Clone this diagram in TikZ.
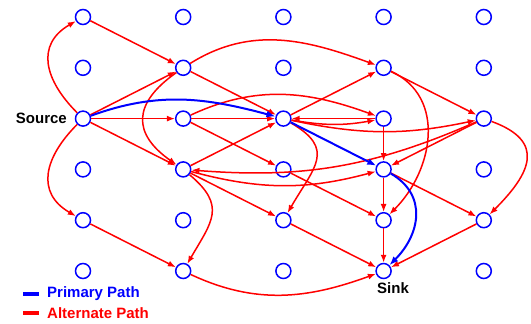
\documentclass[tikz,border=0pt]{standalone}
\usepackage{fontspec}
\setmainfont{Liberation Sans}
\usepackage{tikz}
\usetikzlibrary{arrows.meta}

\begin{document}
\begin{tikzpicture}[x=1pt,y=1pt,
  vertex/.style={circle,draw=blue,line width=1.5pt,fill=white,minimum size=15pt,inner sep=0pt},
  alt/.style={draw=red,line width=1.5pt,-{Latex[length=8pt,width=6pt]}},
  prim/.style={draw=blue,line width=2pt,-{Latex[length=9pt,width=7pt]}},
  tag/.style={font=\fontsize{15}{17}\selectfont\bfseries,inner sep=0pt}]
\useasboundingbox (0,0) rectangle (531,-324);

% grid of routers
\foreach \c in {0,...,4}
  \foreach \r in {0,...,5}
    \node[vertex] (n\c\r) at (83+100.2*\c,-17-50.8*\r) {};

\node[tag,anchor=east] (src) at (67,-118) {Source};
\node[tag] (snk) at (393,-288) {Sink};

% alternate paths
\draw[alt] (n02) to[out=135,in=210,looseness=1.3] (n00);
\draw[alt] (n02) to[out=225,in=150,looseness=1.3] (n04);
\draw[alt] (n00) -- (n11);
\draw[alt] (n02) -- (n11);
\draw[alt] (n02) -- (n12);
\draw[alt] (n02) -- (n13);
\draw[alt] (n11) -- (n22);
\draw[alt] (n12) -- (n22);
\draw[alt] (n32) -- (n22);
\draw[alt] (n13) -- (n22);
\draw[alt] (n12) -- (n23);
\draw[alt] (n13) -- (n24);
\draw[alt] (n11) to[out=215,in=145,looseness=1.5] (n13);
\draw[alt] (n11) to[out=32,in=160] (n31);
\draw[alt] (n12) to[out=25,in=160] (n32);
\draw[alt] (n22) -- (n31);
\draw[alt] (n31) -- (n42);
\draw[alt] (n22) to[bend right=10] (n32);
\draw[alt] (n22) to[bend right=12] (n42);
\draw[alt] (n42) -- (n33);
\draw[alt] (n42) to[bend left=14] (n13);
\draw[alt] (n13) to[bend right=15] (n33);
\draw[alt] (n22) to[out=-30,in=60,looseness=1.5] (n24);
\draw[alt] (n31) to[out=-25,in=45,looseness=1.1] (n34);
\draw[alt] (n32) -- (n33);
\draw[alt] (n33) -- (n34);
\draw[alt] (n34) -- (n35);
\draw[alt] (n33) -- (n44);
\draw[alt] (n44) -- (n35);
\draw[alt] (n42) to[out=-20,in=45,looseness=1.6] (n44);
\draw[alt] (n23) -- (n34);
\draw[alt] (n24) -- (n35);
\draw[alt] (n13) to[out=-40,in=60,looseness=1.4] (n15);
\draw[alt] (n04) -- (n15);
\draw[alt] (n15) to[out=-25,in=200] (n35);

% primary path
\draw[prim] (n02) to[out=20,in=165] (n22);
\draw[prim] (n22) -- (n33);
\draw[prim] (n33) to[out=-30,in=45,looseness=1.2] (n35);

% legend
\coordinate (b1) at (23,-294);
\coordinate (b2) at (39,-294);
\coordinate (r1) at (23,-313);
\coordinate (r2) at (39,-313);
\draw[blue,line width=4pt] (b1) -- (b2);
\draw[red,line width=4pt] (r1) -- (r2);
\node[tag,text=blue,anchor=west] (lgp) at (47,-294) {Primary Path};
\node[tag,text=red,anchor=west] (lga) at (47,-313) {Alternate Path};
\end{tikzpicture}
\end{document}
